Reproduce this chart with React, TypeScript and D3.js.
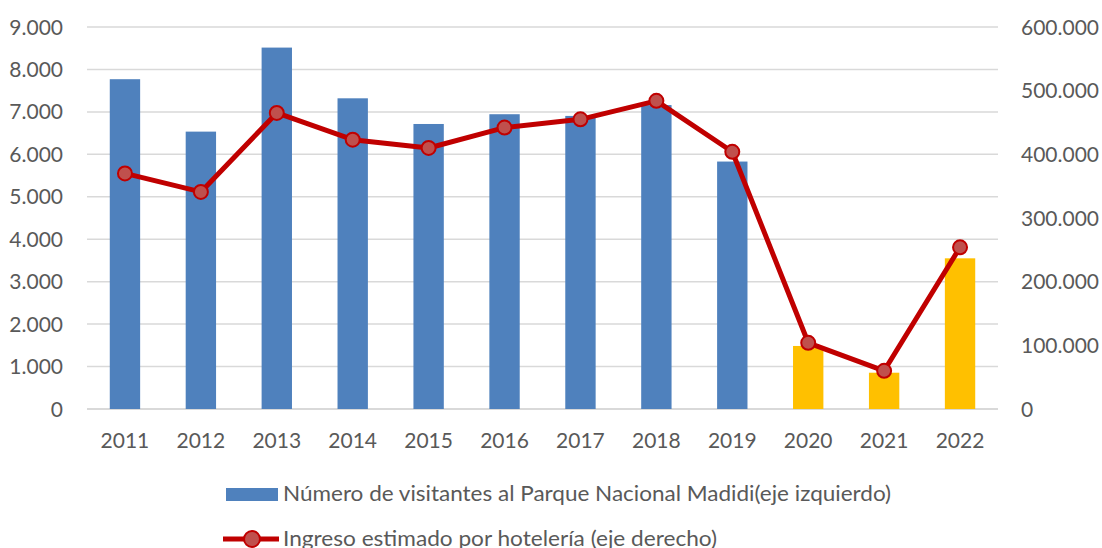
import React from "react";
import * as d3 from "d3";

const years = ["2011", "2012", "2013", "2014", "2015", "2016", "2017", "2018", "2019", "2020", "2021", "2022"];
const visitantes = [7770, 6535, 8515, 7320, 6715, 6945, 6905, 7160, 5830, 1485, 855, 3550];
const ingreso = [370000, 341000, 465000, 423000, 410000, 442000, 455000, 484000, 404000, 104000, 60000, 254000];
const leftTicks = [0, 1000, 2000, 3000, 4000, 5000, 6000, 7000, 8000, 9000];
const rightTicks = [0, 100000, 200000, 300000, 400000, 500000, 600000];
const yellowYears = ["2020", "2021", "2022"];

const width = 1102,
  height = 548;
const margin = { top: 27, left: 87, right: 104, bottom: 139 };

const fmt = (v: number) => d3.format(",")(v).replace(/,/g, ".");

const App = () => {
  const x = d3
    .scaleBand()
    .domain(years)
    .range([margin.left, width - margin.right])
    .paddingInner(0.6)
    .paddingOuter(0.3);
  const yL = d3.scaleLinear().domain([0, 9000]).range([height - margin.bottom, margin.top]);
  const yR = d3.scaleLinear().domain([0, 600000]).range([height - margin.bottom, margin.top]);

  const line = d3
    .line<number>()
    .x((d, i) => x(years[i])! + x.bandwidth() / 2)
    .y((d) => yR(d));

  const font = "Lato, 'Open Sans', sans-serif";
  const textColor = "#595959";

  return (
    <svg width={width} height={height} style={{ position: "absolute", left: 0, top: 0 }} fontFamily={font}>
      <rect width={width} height={height} fill="#fff" />
      {leftTicks.map((t) => (
        <line
          key={"g" + t}
          x1={margin.left}
          x2={width - margin.right}
          y1={yL(t)}
          y2={yL(t)}
          stroke="#d9d9d9"
          strokeWidth={t === 0 ? 2 : 1.5}
        />
      ))}
      {leftTicks.map((t) => (
        <text key={"l" + t} x={63} y={yL(t)} dy="0.36em" textAnchor="end" fontSize={21} fill={textColor}>
          {fmt(t)}
        </text>
      ))}
      {rightTicks.map((t) => (
        <text key={"r" + t} x={1021} y={yR(t)} dy="0.36em" textAnchor="start" fontSize={21} fill={textColor}>
          {fmt(t)}
        </text>
      ))}
      {years.map((yr, i) => (
        <rect
          key={"b" + yr}
          x={x(yr)}
          y={yL(visitantes[i])}
          width={x.bandwidth()}
          height={yL(0) - yL(visitantes[i])}
          fill={yellowYears.includes(yr) ? "#ffc000" : "#4f81bd"}
        />
      ))}
      {years.map((yr) => (
        <text
          key={"x" + yr}
          x={x(yr)! + x.bandwidth() / 2}
          y={440}
          dy="0.36em"
          textAnchor="middle"
          fontSize={21}
          fill={textColor}
        >
          {yr}
        </text>
      ))}
      <path d={line(ingreso) || ""} fill="none" stroke="#c00000" strokeWidth={5} strokeLinejoin="round" />
      {ingreso.map((v, i) => (
        <circle
          key={"c" + i}
          cx={x(years[i])! + x.bandwidth() / 2}
          cy={yR(v)}
          r={7}
          fill="#c0504d"
          stroke="#c00000"
          strokeWidth={2}
        />
      ))}
      {/* legend */}
      <rect x={226} y={488} width={52} height={13} fill="#4f81bd" />
      <text x={283} y={501} fontSize={21} fill={textColor} textLength={608} lengthAdjust="spacingAndGlyphs">
        Número de visitantes al Parque Nacional Madidi(eje izquierdo)
      </text>
      <line x1={223} x2={279} y1={539} y2={539} stroke="#c00000" strokeWidth={5} />
      <circle cx={252} cy={539} r={8} fill="#c0504d" stroke="#c00000" strokeWidth={2} />
      <text x={283} y={546} fontSize={21} fill={textColor} textLength={434} lengthAdjust="spacingAndGlyphs">
        Ingreso estimado por hotelería (eje derecho)
      </text>
    </svg>
  );
};

export default App;
